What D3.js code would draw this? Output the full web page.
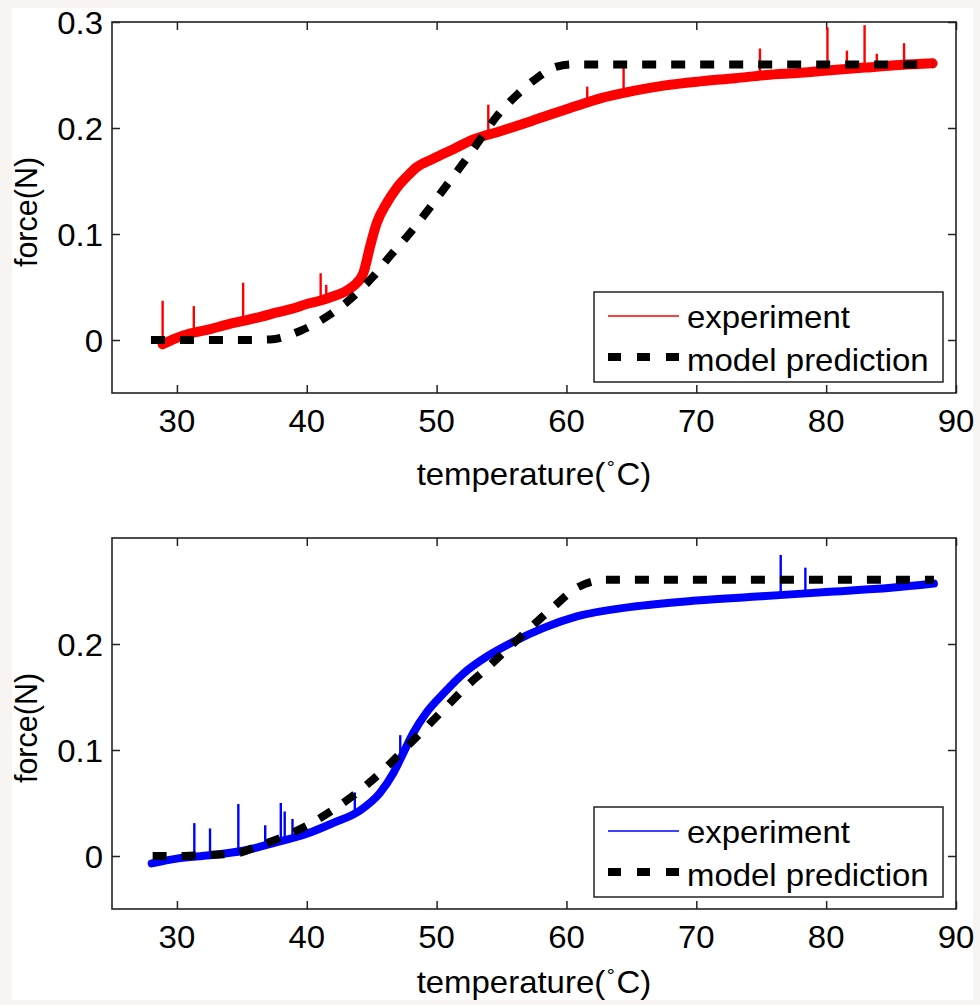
<!DOCTYPE html>
<html>
<head>
<meta charset="utf-8">
<script src="https://cdn.jsdelivr.net/npm/d3@7"></script>
<style>
  html, body { margin: 0; padding: 0; background: #f7f4f2; }
  svg { display: block; }
  text { font-family: "Liberation Sans", Arial, Helvetica, sans-serif; fill: #000; }
</style>
</head>
<body>
<svg id="chart" width="980" height="1005"></svg>
<script>
// ---------------- DATA ----------------
const tempTicks = [30, 40, 50, 60, 70, 80, 90];
const forceTicksTop = [0, 0.1, 0.2, 0.3];
const forceTicksBottom = [0, 0.1, 0.2];
const tempDomain = [25, 90];
const forceDomain = [-0.05, 0.3];

// top panel: experiment (red) centre of noisy band
const expTopT = [28.9, 30, 31, 32.5, 34, 35.1, 36.5, 37.7, 39, 40, 41, 42, 43, 43.6, 44.35, 44.87, 45.38, 46.15, 46.9, 47.7, 48.46, 49.74, 51.28, 52.8, 54.9, 57.4, 60.8, 62.6, 65.15, 67.5, 70.3, 73, 75.4, 78, 80.55, 83, 85.7, 88.2];
const expTopF = [-0.004, 0.002, 0.006, 0.010, 0.015, 0.018, 0.022, 0.026, 0.030, 0.034, 0.037, 0.041, 0.046, 0.051, 0.063, 0.088, 0.110, 0.129, 0.143, 0.154, 0.163, 0.171, 0.180, 0.189, 0.197, 0.207, 0.221, 0.228, 0.235, 0.240, 0.244, 0.247, 0.250, 0.252, 0.2547, 0.257, 0.2594, 0.261];
// top panel spikes: temperature, base force, peak force
const spikeTopT    = [28.9, 31.3, 35.1, 41.07, 41.5, 53.98, 61.6, 64.4, 74.9, 80.1, 81.6, 82.96, 83.9, 86.0];
const spikeTopBase = [-0.002, 0.006, 0.018, 0.037, 0.038, 0.194, 0.225, 0.234, 0.249, 0.254, 0.255, 0.256, 0.257, 0.259];
const spikeTopPeak = [0.037, 0.032, 0.054, 0.063, 0.052, 0.222, 0.239, 0.258, 0.275, 0.295, 0.273, 0.297, 0.270, 0.280];
// top panel: model prediction
const modelTopT = [28, 35, 37.17, 39.48, 41.79, 43.58, 45.12, 46.4, 47.95, 49.49, 50.77, 52.06, 53.34, 54.63, 56.17, 57.71, 59.25, 60.5, 88.2];
const modelTopF = [0, 0, 0.0005, 0.0085, 0.024, 0.041, 0.060, 0.079, 0.101, 0.125, 0.146, 0.167, 0.189, 0.211, 0.231, 0.247, 0.258, 0.260, 0.260];

// bottom panel: experiment (blue)
const expBotT = [28.06, 30, 32.5, 35.1, 37.7, 40, 42, 44.1, 45.6, 46.66, 47.43, 48.2, 49.2, 50.5, 52.05, 53.85, 55.9, 58.2, 60.8, 65, 70, 75, 80, 85, 88.3];
const expBotF = [-0.007, -0.0025, 0.0007, 0.005, 0.013, 0.021, 0.031, 0.043, 0.059, 0.078, 0.097, 0.116, 0.135, 0.153, 0.172, 0.188, 0.202, 0.215, 0.226, 0.235, 0.241, 0.245, 0.249, 0.253, 0.257];
const spikeBotT    = [31.34, 32.55, 34.73, 36.8, 38.0, 38.3, 38.9, 43.7, 47.2, 76.5, 78.4];
const spikeBotBase = [0.0, 0.001, 0.004, 0.011, 0.014, 0.015, 0.017, 0.041, 0.092, 0.246, 0.247];
const spikeBotPeak = [0.031, 0.026, 0.049, 0.029, 0.050, 0.042, 0.035, 0.060, 0.114, 0.284, 0.272];
// bottom panel: model prediction
const modelBotT = [28.13, 30, 32, 34.34, 36.4, 38.45, 40.5, 42.56, 44.6, 46.15, 47.7, 49.24, 50.77, 52.3, 53.85, 55.65, 57.45, 59, 60.8, 62, 63, 88.3];
const modelBotF = [0, 0, 0.001, 0.002, 0.010, 0.0196, 0.032, 0.048, 0.067, 0.084, 0.103, 0.122, 0.141, 0.160, 0.177, 0.1975, 0.218, 0.235, 0.253, 0.259, 0.2606, 0.2606];

const legendLabels = ["experiment", "model prediction"];
const xLabel = "temperature(";
const xLabelTail = "C)";
const yLabel = "force(N)";

// ---------------- DRAWING ----------------
const svg = d3.select("#chart");
svg.append("rect").attr("x", 12).attr("y", 8).attr("width", 961).attr("height", 992).attr("fill", "#fff");

const SX = 1.08;          // horizontal stretch of the original figure's text
const FS = 30.5;
const AX = "#222";

function sText(g, x, y, str, anchor, size) {
  return g.append("text")
    .attr("transform", `translate(${x},${y}) scale(${SX},1)`)
    .attr("text-anchor", anchor)
    .attr("font-size", size)
    .text(str);
}

function zip(a, b) { return a.map((v, i) => [v, b[i]]); }

function panel(cfg) {
  const L = 112, R = 956;
  const x = d3.scaleLinear().domain(tempDomain).range([L, R]);
  const y = d3.scaleLinear().domain(forceDomain).range([cfg.bottom, cfg.top]);
  const g = svg.append("g");

  const mk = (axis, tr) => {
    const a = g.append("g").attr("transform", tr).call(axis);
    a.select(".domain").remove();
    a.selectAll("text").remove();
    a.selectAll("line").attr("stroke", AX).attr("stroke-width", 1.5);
  };
  mk(d3.axisBottom(x).tickValues(tempTicks).tickSize(-8), `translate(0,${cfg.bottom})`);
  mk(d3.axisTop(x).tickValues(tempTicks).tickSize(-8), `translate(0,${cfg.top})`);
  mk(d3.axisLeft(y).tickValues(cfg.yTicks).tickSize(-8), `translate(${L},0)`);
  mk(d3.axisRight(y).tickValues(cfg.yTicks).tickSize(-8), `translate(${R},0)`);

  const line = d3.line().x(d => x(d[0])).y(d => y(d[1])).curve(d3.curveMonotoneX);
  const clip = "clip" + cfg.id;
  g.append("clipPath").attr("id", clip).append("rect")
    .attr("x", L).attr("y", cfg.top).attr("width", R - L).attr("height", cfg.bottom - cfg.top);
  const dg = g.append("g").attr("clip-path", `url(#${clip})`);

  dg.append("path").datum(zip(cfg.expT, cfg.expF))
    .attr("d", line).attr("fill", "none").attr("stroke", cfg.color)
    .attr("stroke-width", cfg.band).attr("stroke-linejoin", "round").attr("stroke-linecap", "round");
  dg.selectAll(".spike").data(cfg.spT.map((t, i) => [t, cfg.spB[i], cfg.spP[i]]))
    .join("line")
    .attr("x1", d => x(d[0])).attr("x2", d => x(d[0]))
    .attr("y1", d => y(d[1])).attr("y2", d => y(d[2]))
    .attr("stroke", cfg.color).attr("stroke-width", 2.4);
  dg.append("path").datum(zip(cfg.modT, cfg.modF))
    .attr("d", line).attr("fill", "none").attr("stroke", "#000")
    .attr("stroke-width", 8).attr("stroke-dasharray", "14,15");

  g.append("rect").attr("x", L).attr("y", cfg.top).attr("width", R - L).attr("height", cfg.bottom - cfg.top)
    .attr("fill", "none").attr("stroke", AX).attr("stroke-width", 1.6);

  tempTicks.forEach(t => sText(g, x(t), cfg.bottom + 39, String(t), "middle", FS));
  cfg.yTicks.forEach(v => sText(g, 103, y(v) + 12, v === 0 ? "0" : String(v), "end", FS));

  const xl = g.append("text")
    .attr("transform", `translate(${(L + R) / 2},${cfg.xLabelY}) scale(${SX},1)`)
    .attr("text-anchor", "middle").attr("font-size", FS);
  xl.append("tspan").text(xLabel);
  xl.append("tspan").attr("font-size", 17).attr("dy", -17).text("\u2218");
  xl.append("tspan").attr("dy", 17).text(xLabelTail);

  g.append("text")
    .attr("transform", `translate(37,${cfg.yLabelY}) rotate(-90)`)
    .attr("text-anchor", "middle").attr("font-size", FS).text(yLabel);

  const lx = 594, lw = 349, lh = 90, ly = cfg.legendTop;
  const lg = g.append("g");
  lg.append("rect").attr("x", lx).attr("y", ly).attr("width", lw).attr("height", lh)
    .attr("fill", "#fff").attr("stroke", AX).attr("stroke-width", 1.5);
  lg.append("line").attr("x1", 608).attr("x2", 679).attr("y1", ly + 24).attr("y2", ly + 24)
    .attr("stroke", cfg.color).attr("stroke-width", 1.5);
  lg.append("line").attr("x1", 608).attr("x2", 679).attr("y1", ly + 65).attr("y2", ly + 65)
    .attr("stroke", "#000").attr("stroke-width", 8).attr("stroke-dasharray", "13,16");
  sText(lg, 687, ly + 36, legendLabels[0], "start", FS);
  sText(lg, 687, ly + 79, legendLabels[1], "start", FS);
}

panel({ id: "top", top: 22, bottom: 393, yTicks: forceTicksTop, color: "#ff0000", band: 10,
  expT: expTopT, expF: expTopF, spT: spikeTopT, spB: spikeTopBase, spP: spikeTopPeak,
  modT: modelTopT, modF: modelTopF, xLabelY: 485, yLabelY: 212, legendTop: 292 });
panel({ id: "bot", top: 538, bottom: 909, yTicks: forceTicksBottom, color: "#0000ff", band: 8,
  expT: expBotT, expF: expBotF, spT: spikeBotT, spB: spikeBotBase, spP: spikeBotPeak,
  modT: modelBotT, modF: modelBotF, xLabelY: 993, yLabelY: 728, legendTop: 807 });
</script>
</body>
</html>
